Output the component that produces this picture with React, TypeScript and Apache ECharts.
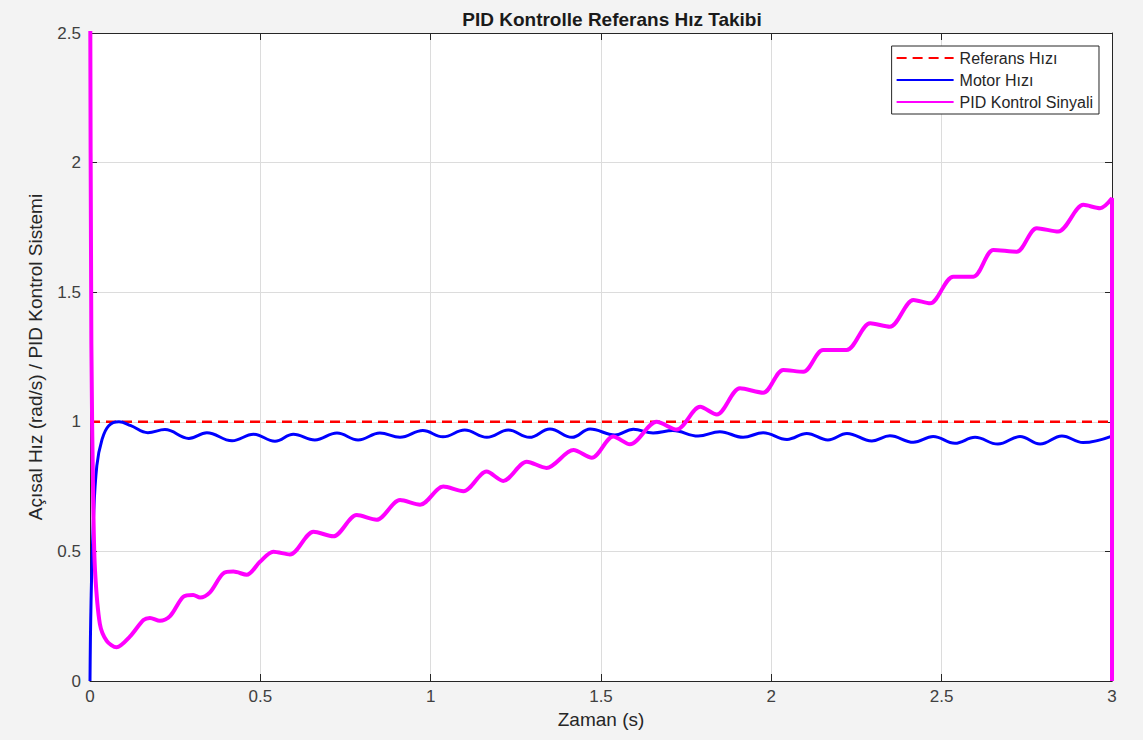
import React, { useEffect, useRef } from "react";
import * as echarts from "echarts";

const titleText = "PID Kontrolle Referans Hız Takibi";
const xName = "Zaman (s)";
const yName = "Açısal Hız (rad/s) / PID Kontrol Sistemi";
const seriesNames = ["Referans Hızı", "Motor Hızı", "PID Kontrol Sinyali"];

const referenceData: [number, number][] = [
  [0, 1],
  [3, 1],
];

const motorData: [number, number][] = [
  [0, 0], [0.003, 0.3], [0.01, 0.62], [0.02, 0.83], [0.035, 0.93], [0.055, 0.985],
  [0.085, 1.0], [0.12, 0.985], [0.17, 0.958], [0.22, 0.97], [0.29, 0.936], [0.343, 0.958],
  [0.417, 0.927], [0.48, 0.952], [0.543, 0.925], [0.597, 0.952], [0.66, 0.93], [0.725, 0.957],
  [0.787, 0.93], [0.851, 0.957], [0.91, 0.94], [0.977, 0.966], [1.036, 0.942], [1.1, 0.968],
  [1.165, 0.94], [1.228, 0.968], [1.29, 0.94], [1.35, 0.972], [1.415, 0.94], [1.468, 0.972],
  [1.541, 0.949], [1.595, 0.971], [1.653, 0.957], [1.711, 0.966], [1.785, 0.945], [1.849, 0.962],
  [1.917, 0.94], [1.976, 0.958], [2.046, 0.932], [2.104, 0.955], [2.166, 0.93], [2.222, 0.955],
  [2.295, 0.926], [2.348, 0.946], [2.417, 0.921], [2.475, 0.943], [2.539, 0.917], [2.598, 0.94],
  [2.665, 0.914], [2.73, 0.943], [2.789, 0.914], [2.853, 0.945], [2.915, 0.92], [3.0, 0.945],
];

const pidData: [number, number][] = [
  [0, 3], [0.004, 1.3], [0.01, 0.65], [0.015, 0.42], [0.029, 0.22], [0.049, 0.155], [0.078, 0.13],
  [0.117, 0.171], [0.157, 0.235], [0.176, 0.243], [0.205, 0.232], [0.235, 0.25], [0.274, 0.325],
  [0.303, 0.332], [0.323, 0.322], [0.352, 0.342], [0.391, 0.415], [0.421, 0.422], [0.46, 0.41],
  [0.499, 0.46], [0.538, 0.499], [0.587, 0.488], [0.656, 0.576], [0.714, 0.558], [0.783, 0.64],
  [0.841, 0.622], [0.91, 0.698], [0.969, 0.68], [1.037, 0.75], [1.096, 0.732], [1.164, 0.808],
  [1.213, 0.772], [1.282, 0.846], [1.34, 0.822], [1.419, 0.891], [1.473, 0.861], [1.536, 0.943],
  [1.585, 0.913], [1.663, 1.0], [1.722, 0.97], [1.791, 1.058], [1.84, 1.028], [1.908, 1.129],
  [1.976, 1.112], [2.035, 1.2], [2.094, 1.193], [2.152, 1.277], [2.221, 1.277], [2.29, 1.38],
  [2.348, 1.367], [2.417, 1.47], [2.466, 1.457], [2.534, 1.56], [2.593, 1.56], [2.652, 1.663],
  [2.72, 1.656], [2.779, 1.747], [2.842, 1.734], [2.916, 1.837], [2.965, 1.824], [3.0, 1.862],
  [3.0, 0],
];

const FONT = "'Liberation Sans', Arial, Helvetica, sans-serif";
const AXIS_COLOR = "#262626";
const LABEL_COLOR = "#404040";

export default function App() {
  const ref = useRef<HTMLDivElement>(null);
  useEffect(() => {
    document.body.style.margin = "0";
    document.body.style.background = "#f3f3f3";
    if (!ref.current) return;
    const chart = echarts.init(ref.current, undefined, { renderer: "svg" });
    const axisCommon = {
      axisLine: { show: true, onZero: false, lineStyle: { color: AXIS_COLOR, width: 1 } },
      axisTick: { show: true, inside: true, length: 7, lineStyle: { color: AXIS_COLOR } },
    };
    chart.setOption({
      animation: false,
      backgroundColor: "#f3f3f3",
      textStyle: { fontFamily: FONT },
      title: {
        text: titleText,
        left: 607,
        textAlign: "center",
        top: 5,
        textStyle: { fontFamily: FONT, fontSize: 19, fontWeight: "bold", color: "#1a1a1a" },
      },
      legend: {
        orient: "vertical",
        right: 44,
        top: 46,
        backgroundColor: "#ffffff",
        borderColor: "#262626",
        borderWidth: 1,
        borderRadius: 0,
        padding: [4, 6, 4, 4],
        itemWidth: 57,
        itemHeight: 14,
        itemGap: 6,
        itemStyle: { opacity: 0 },
        textStyle: { fontFamily: FONT, fontSize: 16, color: "#262626", padding: [0, 0, 0, 1] },
        data: seriesNames,
      },
      grid: { left: 90, right: 31, top: 33, bottom: 59, backgroundColor: "#ffffff", show: true, borderWidth: 0 },
      xAxis: [
        {
          type: "value",
          min: 0,
          max: 3,
          interval: 0.5,
          name: xName,
          nameLocation: "middle",
          nameGap: 29,
          nameTextStyle: { fontFamily: FONT, fontSize: 19, color: AXIS_COLOR },
          ...axisCommon,
          axisLabel: { fontFamily: FONT, fontSize: 17, color: LABEL_COLOR, margin: 7 },
          splitLine: { show: true, lineStyle: { color: "#dcdcdc", width: 1 } },
        },
        {
          type: "value",
          position: "top",
          min: 0,
          max: 3,
          interval: 0.5,
          ...axisCommon,
          axisLabel: { show: false },
          splitLine: { show: false },
        },
      ],
      yAxis: [
        {
          type: "value",
          min: 0,
          max: 2.5,
          interval: 0.5,
          name: yName,
          nameLocation: "middle",
          nameGap: 45,
          nameTextStyle: { fontFamily: FONT, fontSize: 19, color: AXIS_COLOR },
          ...axisCommon,
          axisLabel: { fontFamily: FONT, fontSize: 17, color: LABEL_COLOR, margin: 9 },
          splitLine: { show: true, lineStyle: { color: "#dcdcdc", width: 1 } },
        },
        {
          type: "value",
          position: "right",
          min: 0,
          max: 2.5,
          interval: 0.5,
          ...axisCommon,
          axisLabel: { show: false },
          splitLine: { show: false },
        },
      ],
      series: [
        {
          name: seriesNames[0],
          type: "line",
          data: referenceData,
          symbol: "none",
          lineStyle: { color: "#ff0000", width: 2.5, type: [10, 6] },
          itemStyle: { color: "#ff0000" },
          z: 3,
        },
        {
          name: seriesNames[1],
          type: "line",
          data: motorData,
          symbol: "none",
          smooth: 0.4,
          lineStyle: { color: "#0000ff", width: 3 },
          itemStyle: { color: "#0000ff" },
          z: 4,
        },
        {
          name: seriesNames[2],
          type: "line",
          data: pidData,
          symbol: "none",
          smooth: 0.3,
          clip: true,
          lineStyle: { color: "#ff00ff", width: 4 },
          itemStyle: { color: "#ff00ff" },
          z: 5,
        },
      ],
    });
    return () => chart.dispose();
  }, []);
  return <div ref={ref} style={{ width: 1143, height: 740 }} />;
}
